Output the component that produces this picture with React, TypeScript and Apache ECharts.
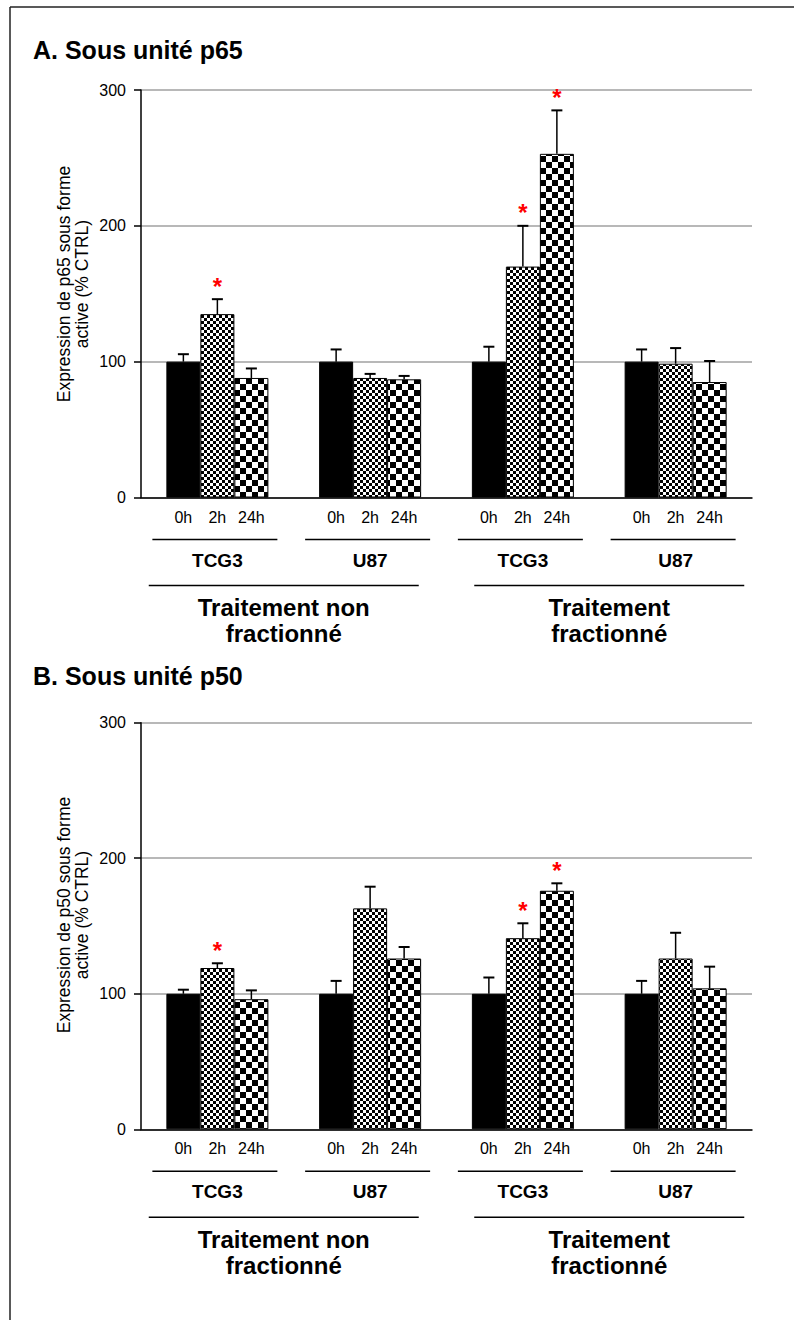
import React, { useEffect, useRef } from "react";
import * as echarts from "echarts";

// ---------- data ----------
const CELL_LINES = ["TCG3", "U87", "TCG3", "U87"];
const TIME_POINTS = ["0h", "2h", "24h"];
const TREATMENTS = ["Traitement non\nfractionné", "Traitement\nfractionné"];
const TREATMENT_GROUPS = [
  [0, 1],
  [2, 3],
];
const Y_MIN = 0;
const Y_MAX = 300;
const Y_STEP = 100;

// Panel A – p65 (mean, and mean + error)
const P65_0H = [100, 100, 100, 100];
const P65_2H = [135, 88, 170, 98.5];
const P65_24H = [88, 87, 253, 85];
const P65_0H_TOP = [105.5, 109, 111, 109];
const P65_2H_TOP = [146, 91, 200, 110];
const P65_24H_TOP = [95, 89.5, 285, 100.5];
const P65_SIGNIF = [
  [0, 1],
  [2, 1],
  [2, 2],
]; // [cell line index, time point index]

// Panel B – p50
const P50_0H = [100, 100, 100, 100];
const P50_2H = [119, 163, 141, 126];
const P50_24H = [96, 126, 176, 104];
const P50_0H_TOP = [103, 109.5, 112, 109.5];
const P50_2H_TOP = [122.5, 179, 152, 145];
const P50_24H_TOP = [102.5, 134.5, 181.5, 120];
const P50_SIGNIF = [
  [0, 1],
  [2, 1],
  [2, 2],
];

const PANELS = [
  {
    title: "A. Sous unité p65",
    yName: "Expression de p65 sous forme\nactive (% CTRL)",
    means: [P65_0H, P65_2H, P65_24H],
    tops: [P65_0H_TOP, P65_2H_TOP, P65_24H_TOP],
    signif: P65_SIGNIF,
  },
  {
    title: "B. Sous unité p50",
    yName: "Expression de p50 sous forme\nactive (% CTRL)",
    means: [P50_0H, P50_2H, P50_24H],
    tops: [P50_0H_TOP, P50_2H_TOP, P50_24H_TOP],
    signif: P50_SIGNIF,
  },
];

// ---------- layout / style ----------
const FONT = "'Liberation Sans', Arial, Helvetica, sans-serif";
const BAR_WIDTH = 34;
const GRIDS = [
  { left: 141, top: 90, width: 611, height: 407.5 },
  { left: 141, top: 722.7, width: 611, height: 406.6 },
];
const TITLE_Y = [37.5, 663.5];
const YNAME_POS = [
  [73, 284],
  [73, 915],
];
const TREAT_DX = [-10, 10];

function checker(cell: number) {
  const c = document.createElement("canvas");
  c.width = cell * 2;
  c.height = cell * 2;
  const ctx = c.getContext("2d")!;
  ctx.fillStyle = "#fff";
  ctx.fillRect(0, 0, cell * 2, cell * 2);
  ctx.fillStyle = "#000";
  ctx.fillRect(0, 0, cell, cell);
  ctx.fillRect(cell, cell, cell, cell);
  return {
    image: c.toDataURL(),
    repeat: "repeat",
    imageWidth: cell * 2,
    imageHeight: cell * 2,
  } as any;
}

export default function App() {
  const ref = useRef<HTMLDivElement>(null);

  useEffect(() => {
    if (!ref.current) return;
    const chart = echarts.init(ref.current, undefined, { renderer: "svg" });

    const fills = ["#000000", checker(3), checker(6)];

    const series: any[] = [];
    const xAxis: any[] = [];
    const yAxis: any[] = [];
    const titles: any[] = [];
    const graphics: any[] = [
      { type: "line", shape: { x1: 10, y1: 7, x2: 794, y2: 7 }, style: { stroke: "#222", lineWidth: 1.5 } },
      { type: "line", shape: { x1: 10, y1: 7, x2: 10, y2: 1320 }, style: { stroke: "#222", lineWidth: 1.5 } },
    ];

    PANELS.forEach((panel, p) => {
      titles.push({
        text: panel.title,
        left: 33,
        top: TITLE_Y[p],
        padding: 0,
        textStyle: { fontSize: 25, fontWeight: "bold", color: "#000", fontFamily: FONT },
      });
      graphics.push({
        type: "text",
        x: YNAME_POS[p][0],
        y: YNAME_POS[p][1],
        rotation: Math.PI / 2,
        style: {
          text: panel.yName,
          align: "center",
          verticalAlign: "middle",
          fontSize: 17.5,
          lineHeight: 18,
          fontFamily: FONT,
          fill: "#000",
        },
      });
      xAxis.push({
        type: "category",
        gridIndex: p,
        data: CELL_LINES,
        axisLine: { lineStyle: { color: "#000", width: 1.5 } },
        axisTick: { show: false },
        axisLabel: {
          interval: 0,
          margin: 53,
          fontSize: 19,
          fontWeight: "bold",
          color: "#000",
          fontFamily: FONT,
        },
      });
      yAxis.push({
        type: "value",
        gridIndex: p,
        min: Y_MIN,
        max: Y_MAX,
        interval: Y_STEP,
        axisLine: { show: true, lineStyle: { color: "#000", width: 1.5 } },
        axisTick: { show: true, length: 7, lineStyle: { color: "#000", width: 1.5 } },
        axisLabel: { fontSize: 16, color: "#000", margin: 15, fontFamily: FONT },
        splitLine: { show: true, lineStyle: { color: "#a0a0a0", width: 1.5 } },
      });

      // bars
      TIME_POINTS.forEach((tp, t) => {
        series.push({
          type: "bar",
          name: tp,
          xAxisIndex: p,
          yAxisIndex: p,
          data: panel.means[t],
          barWidth: BAR_WIDTH,
          barGap: "0%",
          itemStyle: { color: fills[t], borderColor: "#000", borderWidth: 1 },
          z: 2,
        });
      });

      // error bars + significance stars
      const errData: any[] = [];
      TIME_POINTS.forEach((_, t) => {
        CELL_LINES.forEach((_, c) => {
          const sig = panel.signif.some((s) => s[0] === c && s[1] === t) ? 1 : 0;
          errData.push([c, t, panel.means[t][c], panel.tops[t][c], sig]);
        });
      });
      series.push({
        type: "custom",
        xAxisIndex: p,
        yAxisIndex: p,
        z: 5,
        data: errData,
        renderItem: (params: any, api: any) => {
          const c = api.value(0);
          const t = api.value(1);
          const cx = api.coord([c, 0])[0] + (t - 1) * BAR_WIDTH;
          const yBar = api.coord([c, api.value(2)])[1];
          const yTop = api.coord([c, api.value(3)])[1];
          const children: any[] = [
            { type: "line", shape: { x1: cx, y1: yBar, x2: cx, y2: yTop }, style: { stroke: "#000", lineWidth: 1.5 } },
            { type: "line", shape: { x1: cx - 5.5, y1: yTop, x2: cx + 5.5, y2: yTop }, style: { stroke: "#000", lineWidth: 2 } },
          ];
          if (api.value(4) === 1) {
            children.push({
              type: "text",
              style: {
                text: "*",
                x: cx,
                y: yTop - 13,
                align: "center",
                verticalAlign: "middle",
                fontSize: 24,
                fontWeight: "bold",
                fontFamily: FONT,
                fill: "#ff0000",
              },
            });
          }
          return { type: "group", children };
        },
      });

      // time point labels + cell line underline
      series.push({
        type: "custom",
        xAxisIndex: p,
        yAxisIndex: p,
        z: 5,
        silent: true,
        data: CELL_LINES.map((_, c) => [c, 0]),
        renderItem: (params: any, api: any) => {
          const c = api.value(0);
          const [gx, y0] = api.coord([c, 0]);
          const children: any[] = TIME_POINTS.map((tp, t) => ({
            type: "text",
            style: {
              text: tp,
              x: gx + (t - 1) * BAR_WIDTH,
              y: y0 + 19.5,
              align: "center",
              verticalAlign: "middle",
              fontSize: 16,
              fontFamily: FONT,
              fill: "#000",
            },
          }));
          children.push({
            type: "line",
            shape: { x1: gx - 65, y1: y0 + 42, x2: gx + 60, y2: y0 + 42 },
            style: { stroke: "#000", lineWidth: 1.5 },
          });
          return { type: "group", children };
        },
      });

      // treatment labels
      series.push({
        type: "custom",
        xAxisIndex: p,
        yAxisIndex: p,
        z: 5,
        silent: true,
        data: TREATMENT_GROUPS.map((g, i) => [g[0], g[1], i]),
        renderItem: (params: any, api: any) => {
          const i = api.value(2);
          const x1 = api.coord([api.value(0), 0])[0];
          const x2 = api.coord([api.value(1), 0])[0];
          const y0 = api.coord([api.value(0), 0])[1];
          const cx = (x1 + x2) / 2 + TREAT_DX[i];
          return {
            type: "group",
            children: [
              {
                type: "line",
                shape: { x1: cx - 135, y1: y0 + 88, x2: cx + 135, y2: y0 + 88 },
                style: { stroke: "#000", lineWidth: 1.5 },
              },
              {
                type: "text",
                style: {
                  text: TREATMENTS[i],
                  x: cx,
                  y: y0 + 97,
                  align: "center",
                  verticalAlign: "top",
                  fontSize: 24,
                  lineHeight: 26,
                  fontWeight: "bold",
                  fontFamily: FONT,
                  fill: "#000",
                },
              },
            ],
          };
        },
      });
    });

    chart.setOption({
      animation: false,
      backgroundColor: "#fff",
      textStyle: { fontFamily: FONT },
      title: titles,
      grid: GRIDS,
      xAxis,
      yAxis,
      series,
      graphic: graphics,
    });

    return () => chart.dispose();
  }, []);

  return (
    <div
      ref={ref}
      style={{ position: "absolute", left: 0, top: 0, width: 794, height: 1320 }}
    />
  );
}
